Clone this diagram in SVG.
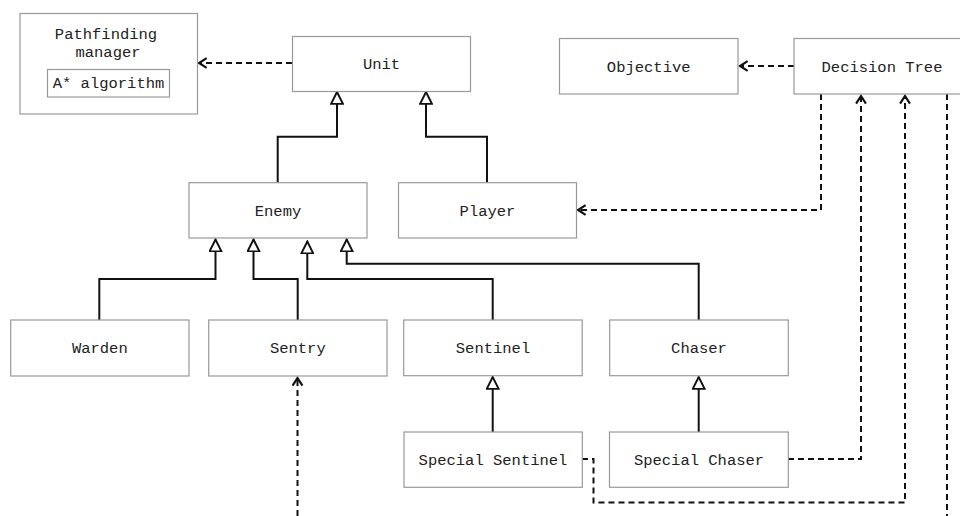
<svg xmlns="http://www.w3.org/2000/svg" width="960" height="516" viewBox="0 0 960 516">
<style>
.box{fill:#fff;stroke:#999;stroke-width:1.2}
.t{font-family:"Liberation Mono","DejaVu Sans Mono",monospace;font-size:15.5px;fill:#222;text-anchor:middle}
.inh{fill:none;stroke:#111;stroke-width:2;marker-end:url(#tri)}
.dep{fill:none;stroke:#111;stroke-width:2;stroke-dasharray:6 4;marker-end:url(#open)}
.depn{fill:none;stroke:#111;stroke-width:2;stroke-dasharray:6 4}
</style>
<defs>
<marker id="tri" markerUnits="userSpaceOnUse" markerWidth="14" markerHeight="14" viewBox="-1 -1 13 13" refX="11" refY="5.5" orient="auto">
<path d="M0,0 L11,5.5 L0,11 Z" fill="#fff" stroke="#111" stroke-width="1.8"/>
</marker>
<marker id="open" markerUnits="userSpaceOnUse" markerWidth="12" markerHeight="12" viewBox="-1 -1 10 11" refX="7" refY="4.5" orient="auto">
<path d="M0,0 L7,4.5 L0,9" fill="none" stroke="#111" stroke-width="2"/>
</marker>
</defs>
<rect width="960" height="516" fill="#fff"/>
<g id="connectors">
<path class="dep" d="M292,63 L199,63"/>
<path class="dep" d="M794,66 L740,66"/>
<path class="dep" d="M821,94 L821,210 L578,210"/>
<path class="dep" d="M788,459 L861,459 L861,96"/>
<path class="dep" d="M582,459 L593.5,459 L593.5,502.5 L905,502.5 L905,96"/>
<path class="depn" d="M947,94 L947,516"/>
<path class="dep" d="M297.5,516 L297.5,378"/>
<path class="inh" d="M277.7,182.7 L277.7,136.7 L337,136.7 L337,92"/>
<path class="inh" d="M487,182.7 L487,136.7 L426,136.7 L426,92"/>
<path class="inh" d="M99.3,320 L99.3,279 L215.5,279 L215.5,239.5"/>
<path class="inh" d="M297.7,320 L297.7,279 L253.5,279 L253.5,239.5"/>
<path class="inh" d="M492.7,320 L492.7,279 L307.3,279 L307.3,241.5"/>
<path class="inh" d="M698.7,320 L698.7,263.7 L346.7,263.7 L346.7,239.5"/>
<path class="inh" d="M492.7,432 L492.7,377"/>
<path class="inh" d="M698.7,432 L698.7,377"/>
</g>
<g id="pathfinding">
<rect class="box" x="20" y="13.5" width="177.5" height="100.5"/>
<text class="t" x="106" y="39">Pathfinding</text>
<text class="t" x="108" y="57">manager</text>
<rect class="box" x="47.5" y="69.5" width="122" height="27.5"/>
<text class="t" x="108.5" y="88">A* algorithm</text>
</g>
<g id="unit"><rect class="box" x="292.5" y="36.5" width="178" height="55"/><text class="t" x="381.5" y="68.5">Unit</text></g>
<g id="objective"><rect class="box" x="559.5" y="38.5" width="178.5" height="55.5"/><text class="t" x="648.7" y="71.5">Objective</text></g>
<g id="decision-tree"><rect class="box" x="794" y="38.5" width="176" height="55.5"/><text class="t" x="882" y="71.5">Decision Tree</text></g>
<g id="enemy"><rect class="box" x="189" y="182.7" width="178" height="55.3"/><text class="t" x="278" y="215.5">Enemy</text></g>
<g id="player"><rect class="box" x="398.5" y="182.7" width="178" height="55.3"/><text class="t" x="487.5" y="215.5">Player</text></g>
<g id="warden"><rect class="box" x="10.7" y="320" width="178.3" height="56"/><text class="t" x="99.8" y="353">Warden</text></g>
<g id="sentry"><rect class="box" x="208.7" y="320" width="178.3" height="56"/><text class="t" x="297.8" y="353">Sentry</text></g>
<g id="sentinel"><rect class="box" x="403.7" y="320" width="178.5" height="55.7"/><text class="t" x="493" y="353">Sentinel</text></g>
<g id="chaser"><rect class="box" x="609.7" y="320" width="178.6" height="55.7"/><text class="t" x="699" y="353">Chaser</text></g>
<g id="special-sentinel"><rect class="box" x="404" y="432" width="178.3" height="55.3"/><text class="t" x="493" y="464.5">Special Sentinel</text></g>
<g id="special-chaser"><rect class="box" x="609.5" y="432" width="178.8" height="55.3"/><text class="t" x="699" y="464.5">Special Chaser</text></g>
</svg>
